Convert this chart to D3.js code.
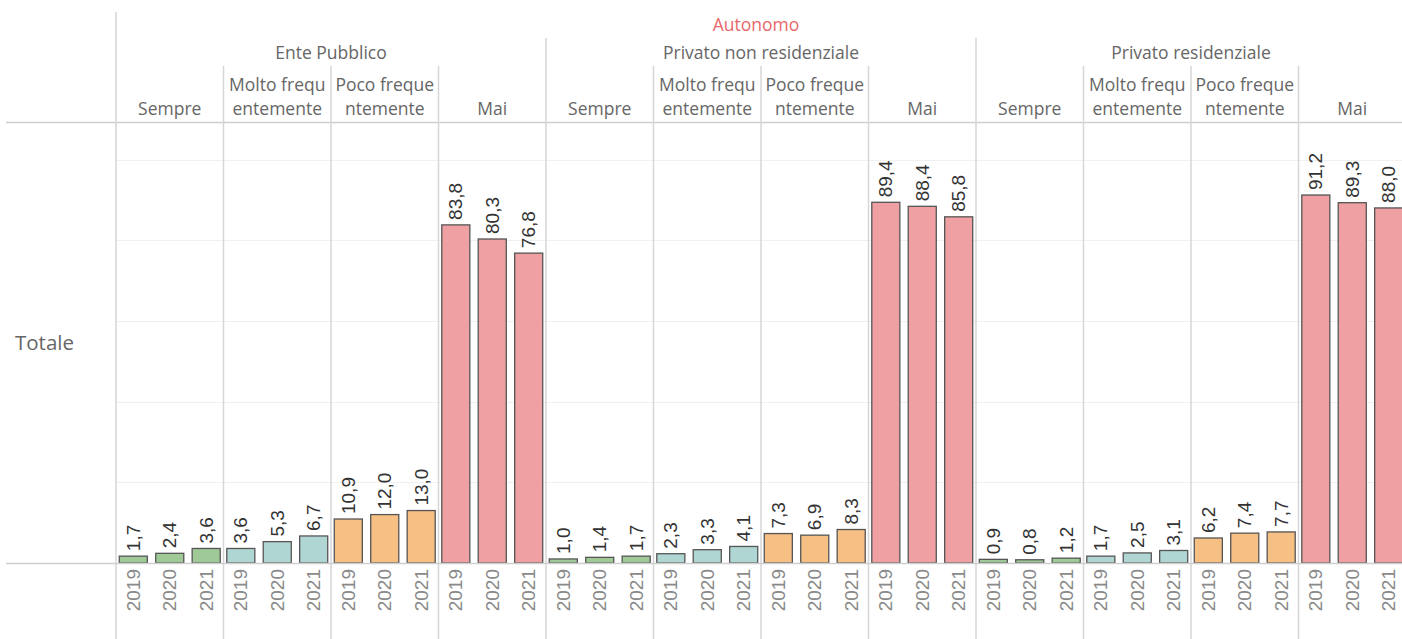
<!DOCTYPE html>
<html>
<head>
<meta charset="utf-8">
<script src="https://cdn.jsdelivr.net/npm/d3@7"></script>
<style>
  body { margin: 0; background: #fff; }
  svg { display: block; }
</style>
</head>
<body>
<div id="chart"></div>
<script>
// data
const topLabel = "Autonomo";
const rowLabel = "Totale";
const sectors = ["Ente Pubblico", "Privato non residenziale", "Privato residenziale"];
const frequencies = ["Sempre", "Molto frequentemente", "Poco frequentemente", "Mai"];
// header text is wrapped like the original (Tableau cuts words)
const freqHeaders = [["Sempre"], ["Molto frequ", "entemente"], ["Poco freque", "ntemente"], ["Mai"]];
const years = ["2019", "2020", "2021"];

const entePubblico = [[1.7, 2.4, 3.6], [3.6, 5.3, 6.7], [10.9, 12.0, 13.0], [83.8, 80.3, 76.8]];
const privatoNonRes = [[1.0, 1.4, 1.7], [2.3, 3.3, 4.1], [7.3, 6.9, 8.3], [89.4, 88.4, 85.8]];
const privatoRes = [[0.9, 0.8, 1.2], [1.7, 2.5, 3.1], [6.2, 7.4, 7.7], [91.2, 89.3, 88.0]];
const sectorValues = [entePubblico, privatoNonRes, privatoRes];

const freqColors = ["#9fca98", "#b0d6d3", "#f6bf84", "#eea0a2"];

const W = 1402, H = 639;
const left = 116, right = 1406;
const headerBottom = 122, baseline = 563;

// flatten into one row per bar
const bars = [];
sectors.forEach((s, si) => {
  frequencies.forEach((f, fi) => {
    years.forEach((yr, yi) => {
      bars.push({ sector: s, freq: f, fi: fi, year: yr, panel: s + "|" + f, value: sectorValues[si][fi][yi] });
    });
  });
});
const panels = [];
sectors.forEach(s => frequencies.forEach((f, fi) => panels.push({ key: s + "|" + f, sector: s, fi: fi })));

const svg = d3.select("#chart")
  .append("svg")
    .attr("width", W)
    .attr("height", H);

const xSector = d3.scaleBand().domain(sectors).range([left, right]);
const xPanel = d3.scaleBand().domain(panels.map(p => p.key)).range([left, right]);
const xYear = d3.scaleBand().domain(years)
  .range([0, xPanel.bandwidth()])
  .paddingInner(0.23)
  .paddingOuter(0.09);
const y = d3.scaleLinear().domain([0, 109.3]).range([baseline, headerBottom]);

const fmt = v => d3.format(".1f")(v).replace(".", ",");

// gridlines
svg.append("g")
  .selectAll("line")
  .data(y.ticks(5).filter(d => d > 0))
  .enter()
  .append("line")
    .attr("x1", left).attr("x2", W)
    .attr("y1", d => Math.round(y(d)) + 0.5)
    .attr("y2", d => Math.round(y(d)) + 0.5)
    .attr("stroke", "#f0f0f0")
    .attr("stroke-width", 1);

// horizontal rules
svg.append("line")
  .attr("x1", 6).attr("x2", W)
  .attr("y1", headerBottom + 0.5).attr("y2", headerBottom + 0.5)
  .attr("stroke", "#cfcfcf").attr("stroke-width", 1.5);

// vertical separators: first line is tallest, sector lines medium, panel lines short
svg.append("g")
  .selectAll("line")
  .data(panels)
  .enter()
  .append("line")
    .attr("x1", d => xPanel(d.key))
    .attr("x2", d => xPanel(d.key))
    .attr("y1", (d, i) => i === 0 ? 12 : (d.fi === 0 ? 38 : 66))
    .attr("y2", H)
    .attr("stroke", "#d6d6d6")
    .attr("stroke-width", 1.5);

// bars
svg.append("g")
  .selectAll("rect")
  .data(bars)
  .enter()
  .append("rect")
    .attr("x", d => xPanel(d.panel) + xYear(d.year))
    .attr("y", d => y(d.value))
    .attr("width", xYear.bandwidth())
    .attr("height", d => baseline - y(d.value))
    .attr("fill", d => freqColors[d.fi])
    .attr("stroke", "#555")
    .attr("stroke-width", 1.3);

// baseline
svg.append("line")
  .attr("x1", 6).attr("x2", W)
  .attr("y1", baseline + 0.5).attr("y2", baseline + 0.5)
  .attr("stroke", "#cfcfcf").attr("stroke-width", 1.5);

// value labels
svg.append("g")
  .selectAll("text")
  .data(bars)
  .enter()
  .append("text")
    .attr("transform", d => {
      const cx = xPanel(d.panel) + xYear(d.year) + xYear.bandwidth() / 2;
      return "translate(" + cx + "," + (y(d.value) - 5) + ") rotate(-90)";
    })
    .attr("dy", "0.35em")
    .attr("text-anchor", "start")
    .attr("font-family", "Liberation Sans, Arial, sans-serif")
    .attr("font-size", 19)
    .attr("fill", "#333")
    .text(d => fmt(d.value));

// year labels
svg.append("g")
  .selectAll("text")
  .data(bars)
  .enter()
  .append("text")
    .attr("transform", d => {
      const cx = xPanel(d.panel) + xYear(d.year) + xYear.bandwidth() / 2;
      return "translate(" + cx + "," + (baseline + 6) + ") rotate(-90)";
    })
    .attr("dy", "0.35em")
    .attr("text-anchor", "end")
    .attr("font-family", "Liberation Sans, Arial, sans-serif")
    .attr("font-size", 19)
    .attr("fill", "#8a8a8a")
    .text(d => d.year);

// headers
const headFont = "Open Sans, Lato, sans-serif";
const headSize = 17.5;
svg.append("text")
  .attr("x", (left + right) / 2 - 5)
  .attr("y", 31)
  .attr("text-anchor", "middle")
  .attr("font-family", headFont)
  .attr("font-size", headSize)
  .attr("fill", "#e8676a")
  .text(topLabel);

svg.append("g")
  .selectAll("text")
  .data(sectors)
  .enter()
  .append("text")
    .attr("x", d => xSector(d) + xSector.bandwidth() / 2)
    .attr("y", 59)
    .attr("text-anchor", "middle")
    .attr("font-family", headFont)
    .attr("font-size", headSize)
    .attr("fill", "#666")
    .text(d => d);

const ph = svg.append("g")
  .selectAll("text")
  .data(panels)
  .enter()
  .append("text")
    .attr("text-anchor", "middle")
    .attr("font-family", headFont)
    .attr("font-size", headSize)
    .attr("fill", "#666");
ph.each(function(d) {
  const lines = freqHeaders[d.fi];
  const cx = xPanel(d.key) + xPanel.bandwidth() / 2;
  d3.select(this).selectAll("tspan")
    .data(lines)
    .enter()
    .append("tspan")
      .attr("x", cx)
      .attr("y", (l, i) => 115 - (lines.length - 1 - i) * 24)
      .text(l => l);
});

svg.append("text")
  .attr("x", 15)
  .attr("y", 350)
  .attr("font-family", headFont)
  .attr("font-size", 20.5)
  .attr("fill", "#666")
  .text(rowLabel);
</script>
</body>
</html>
